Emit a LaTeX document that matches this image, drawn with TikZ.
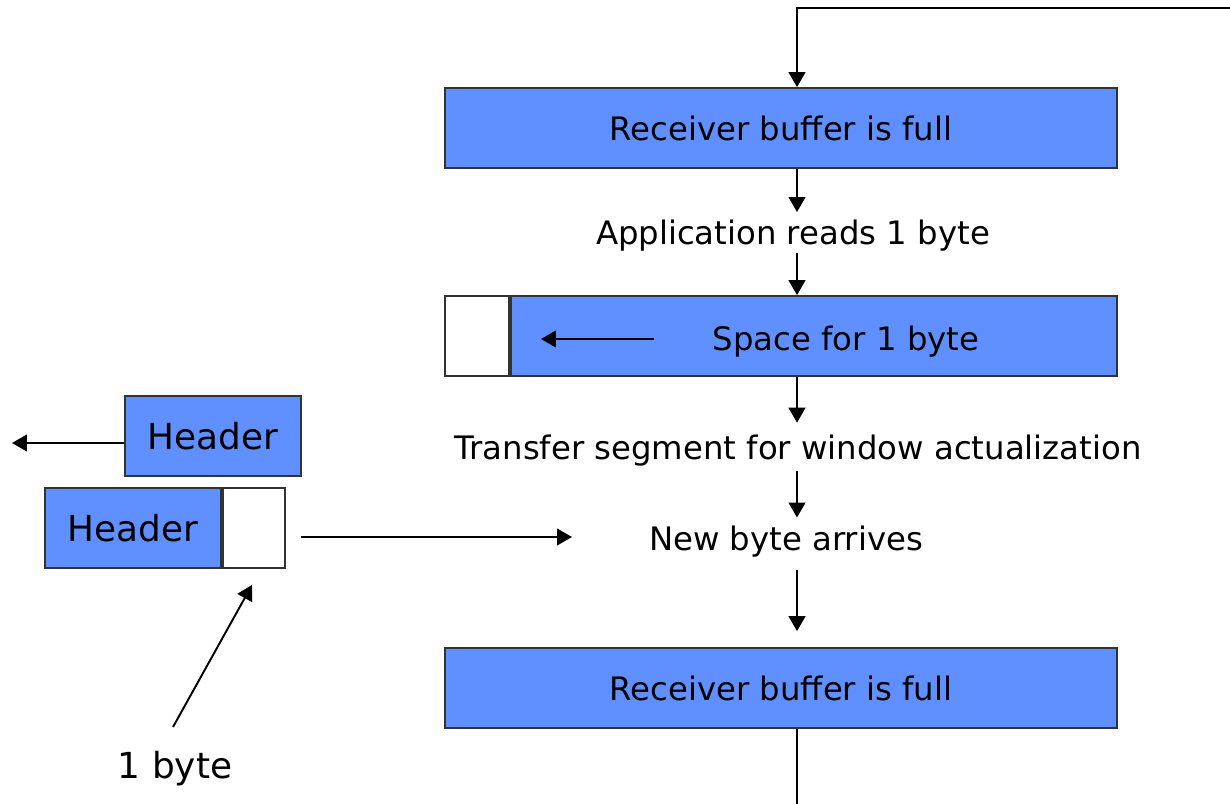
\documentclass[tikz,border=0pt]{standalone}
\usepackage{fontspec}
\setmainfont{DejaVu Sans}
\usetikzlibrary{positioning, arrows.meta, calc}
\definecolor{bufblue}{RGB}{96,144,255}

\begin{document}
\begin{tikzpicture}[
  x=0.02cm, y=-0.02cm,
  >={Triangle[length=8.5pt, width=9.5pt]},
  every node/.style={font=\fontsize{18.4}{22}\selectfont, inner sep=0pt},
  buffer/.style={draw=black!80, line width=1pt, fill=bufblue, minimum height=1.6cm},
  slot/.style={buffer, fill=white},
  caption/.style={text height=18.5pt, text depth=4.4pt},
  big/.style={font=\fontsize{20.4}{24}\selectfont},
  arr/.style={->, line width=1.1pt}
]
\useasboundingbox (0,0) rectangle (1230,804);
\coordinate (spine) at (797,0);

% Receiver side: buffer full
\node[buffer, minimum width=13.44cm] (full1) at (781,128) {Receiver buffer is full};
\coordinate (loopin) at (1230,8);
\draw[arr] (loopin) -| (full1.north -| spine);

% Application reads
\node[caption, minimum height=0.7cm] (reads) at (793,232.5) {Application reads 1 byte};
\draw[arr] (full1.south -| spine) -- (reads.north -| spine);

% Buffer with one free slot
\node[slot, minimum width=1.28cm] (gap) at (477,336) {};
\node[buffer, minimum width=12.12cm, anchor=west] (space) at (gap.east) {};
\node[caption] (spacetxt) at (846,338) {Space for 1 byte};
\coordinate (shiftend) at (541,339);
\draw[arr, shorten <=33.5pt] (shiftend -| spacetxt.west) -- (shiftend);
\draw[arr] (reads.south -| spine) -- (space.north -| spine);

% Window update
\node[caption, minimum height=0.96cm] (update) at (798,447) {Transfer segment for window actualization};
\draw[arr] (space.south -| spine) -- (update.north -| spine);

% New byte
\node[caption, minimum height=0.76cm] (newbyte) at (786,538) {New byte arrives};
\draw[arr] (update.south -| spine) -- (newbyte.north -| spine);

% Buffer full again
\node[buffer, minimum width=13.44cm] (full3) at (781,688) {Receiver buffer is full};
\draw[arr, shorten <=6.3pt, shorten >=9.1pt] (newbyte.south -| spine) -- (full3.north -| spine);
\coordinate (loopout) at (797,804);
\draw[line width=1.1pt] (full3.south -| spine) -- (loopout);

% Sender side segments
\node[buffer, big, minimum width=3.52cm] (hdr1) at (213,436) {Header};
\coordinate (sendout) at (12,443);
\draw[arr] (sendout -| hdr1.west) -- (sendout);

\node[buffer, big, minimum width=3.52cm] (hdr2) at (133,528) {Header};
\node[slot, minimum width=1.24cm, anchor=west] (newslot) at (hdr2.east) {};
\coordinate (arrive) at (572,537);
\draw[arr, shorten <=9pt] (arrive -| newslot.east) -- (arrive);

% Label for the data byte
\node[big] (onebyte) at (175,769) {1 byte};
\coordinate (bytetail) at (173,727);
\coordinate (bytetip) at (252,585);
\draw[arr] (bytetail) -- (bytetip);

\end{tikzpicture}
\end{document}
